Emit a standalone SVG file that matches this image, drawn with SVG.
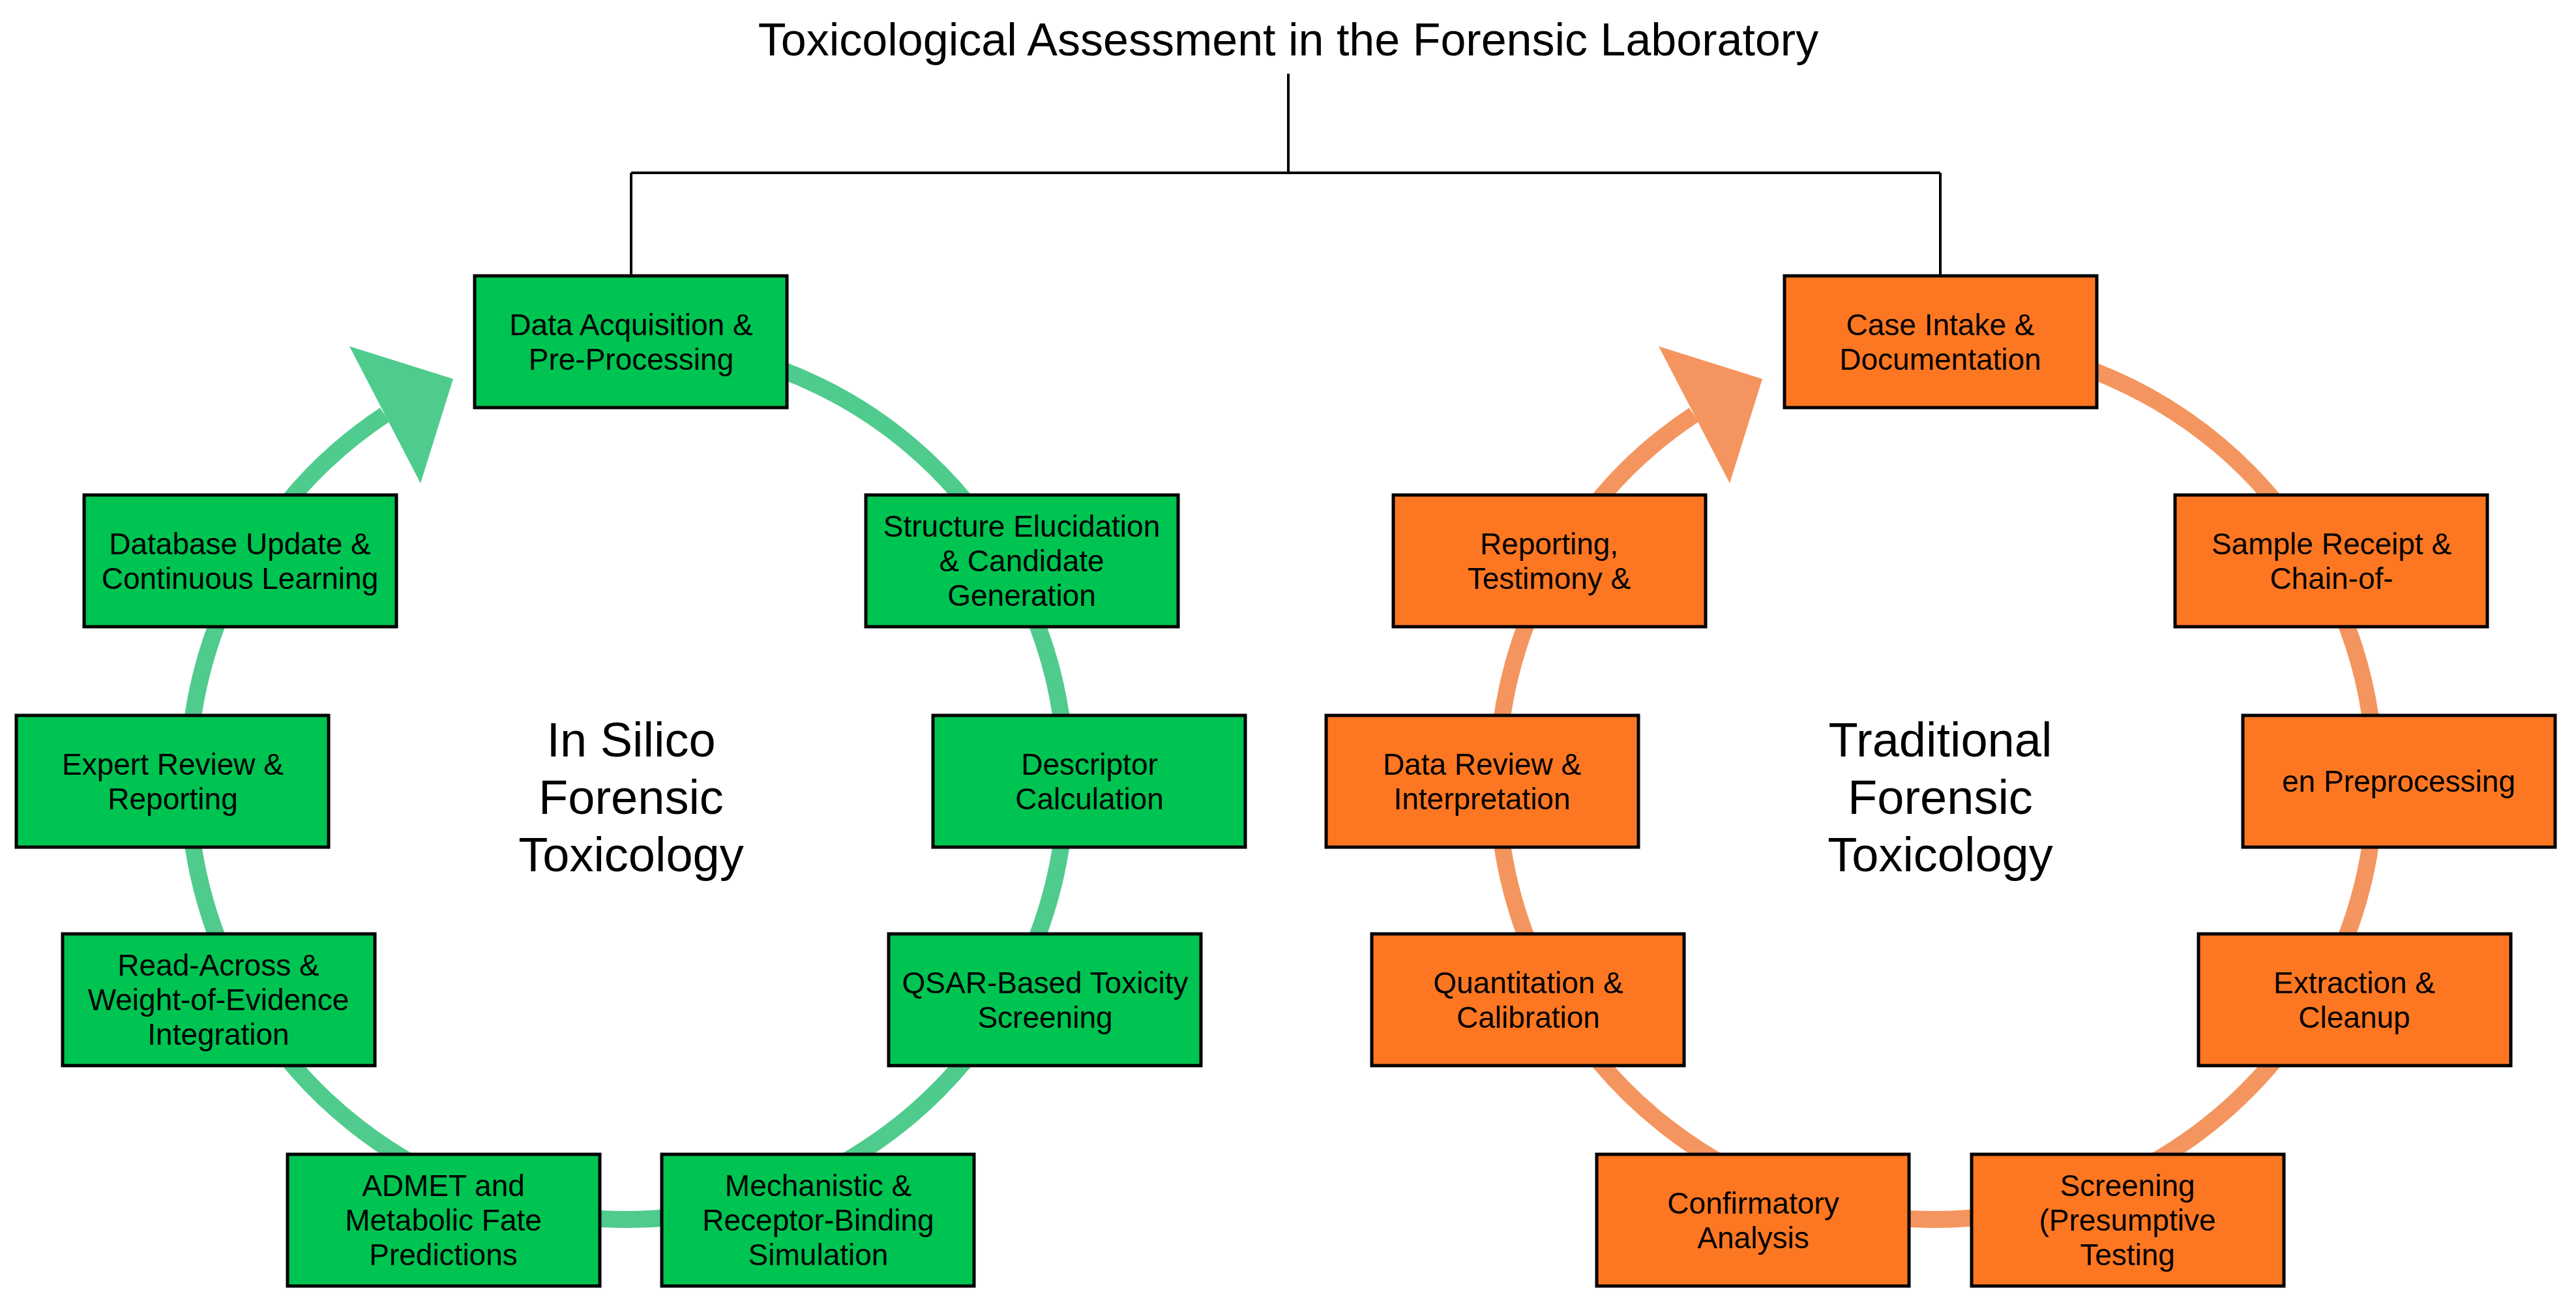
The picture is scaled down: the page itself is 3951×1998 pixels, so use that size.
<svg xmlns="http://www.w3.org/2000/svg" width="3951" height="1998" viewBox="0 0 3951 1998">
<style>
text{font-family:"Liberation Sans",Arial,sans-serif;fill:#000;text-anchor:middle}
.t{font-size:46px}
.c{font-size:74px}
.g rect{fill:#00c451;stroke:#000;stroke-width:5}
.o rect{fill:#fd7722;stroke:#000;stroke-width:5}
.ga{fill:none;stroke:#4fcb8d;stroke-width:26}
.oa{fill:none;stroke:#f4955f;stroke-width:26}
</style>
<rect width="3951" height="1998" fill="#fff"/>
<text x="1976" y="85" style="font-size:70px">Toxicological Assessment in the Forensic Laboratory</text>
<g id="connectors">
<path d="M1976,113 V265 M968,265 H2976 M968,265 V423 M2976,265 V423" fill="none" stroke="#000" stroke-width="4"/>
<path class="ga" d="M968,524 A673,673 0 1 1 590,636"/>
<polygon points="536,531 695,581 645,741" fill="#4fcb8d"/>
<path class="oa" d="M2976,524 A673,673 0 1 1 2598,636"/>
<polygon points="2544,531 2703,581 2653,741" fill="#f4955f"/>
</g>
<text class="c" x="968" y="1160">In Silico</text>
<text class="c" x="968" y="1248">Forensic</text>
<text class="c" x="968" y="1336">Toxicology</text>
<text class="c" x="2976" y="1160">Traditional</text>
<text class="c" x="2976" y="1248">Forensic</text>
<text class="c" x="2976" y="1336">Toxicology</text>
<g id="n1" class="g"><rect x="728" y="423" width="479" height="202"/><text class="t" x="968" y="514">Data Acquisition &amp;</text><text class="t" x="968" y="567">Pre-Processing</text></g>
<g id="n2" class="g"><rect x="1328" y="759" width="479" height="202"/><text class="t" x="1567" y="823">Structure Elucidation</text><text class="t" x="1567" y="876">&amp; Candidate</text><text class="t" x="1567" y="929">Generation</text></g>
<g id="n3" class="g"><rect x="1431" y="1097" width="479" height="202"/><text class="t" x="1671" y="1188">Descriptor</text><text class="t" x="1671" y="1241">Calculation</text></g>
<g id="n4" class="g"><rect x="1363" y="1432" width="479" height="202"/><text class="t" x="1603" y="1523">QSAR-Based Toxicity</text><text class="t" x="1603" y="1576">Screening</text></g>
<g id="n5" class="g"><rect x="1015" y="1770" width="479" height="202"/><text class="t" x="1255" y="1834">Mechanistic &amp;</text><text class="t" x="1255" y="1887">Receptor-Binding</text><text class="t" x="1255" y="1940">Simulation</text></g>
<g id="n6" class="g"><rect x="441" y="1770" width="479" height="202"/><text class="t" x="680" y="1834">ADMET and</text><text class="t" x="680" y="1887">Metabolic Fate</text><text class="t" x="680" y="1940">Predictions</text></g>
<g id="n7" class="g"><rect x="96" y="1432" width="479" height="202"/><text class="t" x="335" y="1496">Read-Across &amp;</text><text class="t" x="335" y="1549">Weight-of-Evidence</text><text class="t" x="335" y="1602">Integration</text></g>
<g id="n8" class="g"><rect x="25" y="1097" width="479" height="202"/><text class="t" x="265" y="1188">Expert Review &amp;</text><text class="t" x="265" y="1241">Reporting</text></g>
<g id="n9" class="g"><rect x="129" y="759" width="479" height="202"/><text class="t" x="368" y="850">Database Update &amp;</text><text class="t" x="368" y="903">Continuous Learning</text></g>
<g id="m1" class="o"><rect x="2737" y="423" width="479" height="202"/><text class="t" x="2976" y="514">Case Intake &amp;</text><text class="t" x="2976" y="567">Documentation</text></g>
<g id="m2" class="o"><rect x="3336" y="759" width="479" height="202"/><text class="t" x="3576" y="850">Sample Receipt &amp;</text><text class="t" x="3576" y="903">Chain-of-</text></g>
<g id="m3" class="o"><rect x="3440" y="1097" width="479" height="202"/><text class="t" x="3679" y="1214">en Preprocessing</text></g>
<g id="m4" class="o"><rect x="3372" y="1432" width="479" height="202"/><text class="t" x="3611" y="1523">Extraction &amp;</text><text class="t" x="3611" y="1576">Cleanup</text></g>
<g id="m5" class="o"><rect x="3024" y="1770" width="479" height="202"/><text class="t" x="3263" y="1834">Screening</text><text class="t" x="3263" y="1887">(Presumptive</text><text class="t" x="3263" y="1940">Testing</text></g>
<g id="m6" class="o"><rect x="2449" y="1770" width="479" height="202"/><text class="t" x="2689" y="1861">Confirmatory</text><text class="t" x="2689" y="1914">Analysis</text></g>
<g id="m7" class="o"><rect x="2104" y="1432" width="479" height="202"/><text class="t" x="2344" y="1523">Quantitation &amp;</text><text class="t" x="2344" y="1576">Calibration</text></g>
<g id="m8" class="o"><rect x="2034" y="1097" width="479" height="202"/><text class="t" x="2273" y="1188">Data Review &amp;</text><text class="t" x="2273" y="1241">Interpretation</text></g>
<g id="m9" class="o"><rect x="2137" y="759" width="479" height="202"/><text class="t" x="2376" y="850">Reporting,</text><text class="t" x="2376" y="903">Testimony &amp;</text></g>
</svg>
